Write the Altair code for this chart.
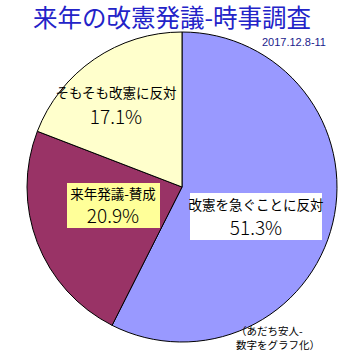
import altair as alt
import pandas as pd

categories = ["改憲を急ぐことに反対", "来年発議-賛成", "そもそも改憲に反対"]
values = [51.3, 20.9, 17.1]
colors = ["#9999ff", "#993366", "#ffffcc"]
order = [0, 1, 2]

df = pd.DataFrame({"cat": categories, "val": values, "ord": order})

W, H = 357, 361
CX, CY, R = 182, 187, 155
FONT = "Noto Sans CJK JP"

pie = alt.Chart(df).mark_arc(radius=R, stroke="black", strokeWidth=1).encode(
    theta=alt.Theta("val:Q", stack=True),
    order=alt.Order("ord:Q"),
    color=alt.Color("cat:N", scale=alt.Scale(domain=categories, range=colors), legend=None),
    x=alt.value(CX), y=alt.value(CY),
)

boxes = pd.DataFrame({
    "x": [190, 67], "x2": [322, 160], "y": [193, 183], "y2": [240, 228],
    "fill": ["#ffffff", "#ffff99"],
})
box_layers = [
    alt.Chart(pd.DataFrame({"a": [0]})).mark_rect(fill=r.fill).encode(
        x=alt.value(r.x), x2=alt.value(r.x2), y=alt.value(r.y), y2=alt.value(r.y2)
    )
    for r in boxes.itertuples()
]

label_pos = [(256, 206), (113, 195), (116, 94)]
pct_pos = [(256, 229), (113, 217), (116, 118)]
texts = []
for (cat, v, (lx, ly), (px, py)) in zip(categories, values, label_pos, pct_pos):
    texts.append(alt.Chart(pd.DataFrame({"t": [cat]})).mark_text(
        font=FONT, fontSize=13.5, color="black", align="center", baseline="middle"
    ).encode(text="t:N", x=alt.value(lx), y=alt.value(ly)))
    texts.append(alt.Chart(pd.DataFrame({"t": [f"{v}%"]})).mark_text(
        font=FONT, fontSize=19, fontWeight=300, color="black", align="center", baseline="middle"
    ).encode(text="t:N", x=alt.value(px), y=alt.value(py)))

title = alt.Chart(pd.DataFrame({"t": ["来年の改憲発議-時事調査"]})).mark_text(
    font=FONT, fontSize=24.5, color="#2323c8", align="center", baseline="middle"
).encode(text="t:N", x=alt.value(172), y=alt.value(20))

date = alt.Chart(pd.DataFrame({"t": ["2017.12.8-11"]})).mark_text(
    font="Liberation Sans", fontSize=11, color="#1a1a8c", align="right", baseline="middle"
).encode(text="t:N", x=alt.value(326), y=alt.value(43))

credit = alt.Chart(pd.DataFrame({"t": [["（あだち安人-", "数字をグラフ化）"]]})).mark_text(
    font=FONT, fontSize=10.5, color="black", align="left", baseline="top", lineHeight=14
).encode(text="t:N", x=alt.value(236), y=alt.value(327))

chart = alt.layer(pie, *box_layers, *texts, title, date, credit).properties(
    width=W, height=H, padding=0, autosize=alt.AutoSizeParams(type="none"),
    background="white",
).configure_view(stroke=None)

chart.save("out.html", embed_options={"renderer": "svg", "actions": False})
